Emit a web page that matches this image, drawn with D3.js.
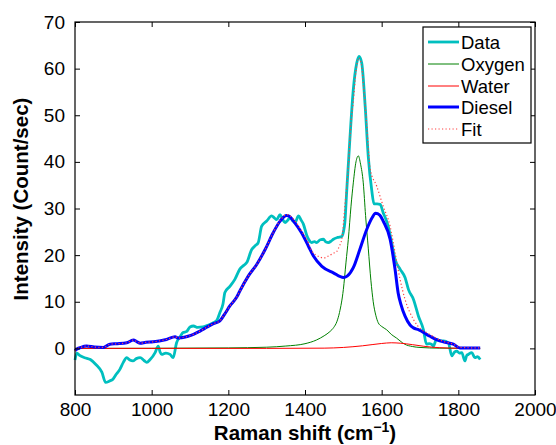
<!DOCTYPE html>
<html><head><meta charset="utf-8">
<script src="https://cdn.jsdelivr.net/npm/d3@7"></script>
<style>body{margin:0;background:#fff}svg{display:block}text{font-family:"Liberation Sans",Arial,Helvetica,sans-serif}</style>
</head><body>
<script>
// ---- data ----
const dataX = [800,805,812,825,840,855,870,880,890,899,908,917,926,935,943,951,960,970,980,987,996,1009,1017,1022,1026,1037,1048,1056,1065,1075,1082,1091,1100,1109,1120,1134,1148,1161,1170,1178,1186,1191,1204,1217,1230,1240,1248,1261,1270,1278,1287,1300,1313,1320,1326,1335,1342,1348,1355,1361,1368,1374,1383,1390,1396,1404,1410,1417,1425,1430,1440,1448,1455,1461,1468,1474,1485,1496,1500,1504,1509,1517,1526,1535,1541,1548,1557,1565,1574,1580,1588,1596,1604,1617,1626,1635,1648,1661,1670,1683,1696,1709,1717,1724,1730,1735,1743,1752,1761,1774,1783,1790,1796,1803,1809,1817,1822,1826,1835,1843,1850,1857];
const dataY = [-2.5,-1.0,-1.5,-2.0,-2.4,-3.5,-5.1,-7.3,-7.0,-6.6,-5.5,-4.5,-3.0,-2.0,-2.5,-2.7,-2.2,-2.0,-2.6,-3.0,-2.4,-0.9,0.5,-0.8,-1.3,-1.0,-1.3,-2.0,1.2,2.6,3.4,3.6,4.6,4.8,4.5,4.6,5.0,5.5,6.0,7.7,9.5,12.0,13.3,14.8,17.0,17.8,18.4,21.2,22.0,22.7,26.2,27.3,28.4,28.0,27.6,28.7,27.6,27.0,27.5,28.0,27.4,27.0,28.4,27.5,26.6,24.4,23.3,22.7,22.9,22.7,23.3,23.4,22.8,22.7,23.0,23.4,23.8,24.0,24.9,27.0,34.0,44.8,55.5,61.2,62.6,61.2,51.9,41.2,34.0,31.0,31.0,30.9,29.1,26.2,22.7,19.1,17.0,15.2,12.6,10.5,6.9,4.0,0.9,1.0,0.9,0.5,1.9,1.6,1.6,1.2,-1.6,-0.8,-0.6,-1.0,-0.9,-2.7,-1.5,-1.3,-0.9,-2.0,-1.8,-2.4];

const oxygenX = [800,1000,1200,1300,1350,1400,1430,1450,1465,1475,1483,1490,1500,1507,1513,1520,1526,1533,1539,1545,1552,1558,1565,1572,1578,1585,1591,1600,1613,1625,1639,1648,1660,1680,1700,1750,1857];
const oxygenY = [0.0,0.02,0.1,0.25,0.5,1.0,1.8,2.7,3.6,4.5,5.7,7.7,12.6,18.5,23.4,30.5,35.5,40.0,41.3,39.5,35.5,28.5,21.5,14.5,10.0,7.0,5.5,4.7,4.0,3.0,2.2,1.6,0.9,0.4,0.2,0.05,0.0];

const waterX = [800,1300,1450,1500,1550,1600,1625,1650,1680,1710,1750,1800,1857];
const waterY = [0,0,0.05,0.2,0.55,1.05,1.2,1.1,0.8,0.45,0.15,0.03,0];

const dieselX = [800,804,815,830,850,874,891,910,935,952,962,970,985,1004,1020,1039,1061,1070,1078,1095,1109,1126,1145,1161,1178,1190,1204,1222,1230,1252,1274,1296,1317,1335,1352,1360,1370,1391,1409,1422,1444,1474,1500,1510,1526,1543,1561,1575,1584,1595,1604,1622,1635,1643,1650,1661,1674,1683,1696,1704,1717,1726,1743,1761,1787,1804,1857];
const dieselY = [-0.5,-0.2,0.2,0.5,0.3,0.2,0.9,1.0,1.2,1.8,1.4,1.1,1.3,1.4,1.6,1.9,2.5,2.2,2.3,2.6,3.0,3.7,4.6,5.3,5.9,7.3,9.1,11.0,12.3,15.5,18.0,21.2,24.8,27.3,28.5,28.3,27.3,24.8,21.9,19.8,17.6,16.2,15.2,15.5,17.3,21.2,25.5,28.0,29.0,28.6,27.3,23.4,16.9,11.9,9.5,6.9,5.0,4.4,4.0,3.7,3.0,2.6,1.9,1.4,0.9,0.1,0.1];

const fitX = [800,804,815,830,850,874,891,910,935,952,962,970,985,1004,1020,1039,1061,1070,1078,1095,1109,1126,1145,1161,1178,1190,1204,1222,1230,1252,1274,1296,1317,1335,1352,1360,1370,1391,1409,1417,1439,1450,1461,1474,1483,1490,1496,1504,1513,1520,1526,1533,1540,1547,1553,1560,1566,1570,1587,1604,1622,1635,1648,1661,1683,1704,1717,1733,1761,1787,1804,1857];
const fitY = [-0.5,-0.2,0.2,0.5,0.3,0.2,0.9,1.0,1.2,1.8,1.4,1.1,1.3,1.4,1.6,1.9,2.5,2.2,2.3,2.6,3.0,3.7,4.6,5.3,5.9,7.3,9.1,11.0,12.3,15.5,18.0,21.2,24.8,27.4,28.7,28.5,27.7,25.2,22.6,21.0,19.6,19.4,19.8,20.4,20.8,22.0,23.4,30.5,39.0,48.5,53.0,59.5,62.3,61.0,56.0,49.0,42.0,38.4,34.8,30.5,26.2,20.5,14.8,10.5,6.2,4.0,3.4,2.6,1.5,0.9,0.2,0.1];

const xTicks = [800,1000,1200,1400,1600,1800,2000];
const yTicks = [0,10,20,30,40,50,60,70];
const legendLabels = ["Data","Oxygen","Water","Diesel","Fit"];

// ---- chart ----
const W = 556, H = 445;
const m = {left:75, right:21, top:22, bottom:50};
const svg = d3.select("body").append("svg").attr("width",W).attr("height",H);
const x = d3.scaleLinear().domain([800,2000]).range([m.left, W-m.right]);
const y = d3.scaleLinear().domain([-10,70]).range([H-m.bottom, m.top]);
const fsTick = 19, fsTitle = 20.5, fsLeg = 18.5;

const series = [
  {name:"Data",   xs:dataX,   ys:dataY,   color:"#00bfbf", w:2.8},
  {name:"Oxygen", xs:oxygenX, ys:oxygenY, color:"#008000", w:1},
  {name:"Water",  xs:waterX,  ys:waterY,  color:"#ff0000", w:1},
  {name:"Diesel", xs:dieselX, ys:dieselY, color:"#0000ff", w:3},
  {name:"Fit",    xs:fitX,    ys:fitY,    color:"#ff4040", w:1.2, dash:"1.2,2.3"}
];

const line = d3.line().x(d=>x(d[0])).y(d=>y(d[1])).curve(d3.curveMonotoneX);
series.forEach(s=>{
  const pts = s.xs.map((v,i)=>[v,s.ys[i]]);
  svg.append("path").attr("d",line(pts)).attr("fill","none")
    .attr("stroke",s.color).attr("stroke-width",s.w)
    .attr("stroke-linejoin","round")
    .attr("stroke-dasharray",s.dash||null);
});

// axes (MATLAB-style inward ticks, box)
const gx = svg.append("g").attr("transform",`translate(0,${H-m.bottom})`)
  .call(d3.axisBottom(x).tickValues(xTicks).tickFormat(d3.format("d")).tickSize(-5).tickPadding(8));
const gxt = svg.append("g").attr("transform",`translate(0,${m.top})`)
  .call(d3.axisTop(x).tickValues(xTicks).tickFormat("").tickSize(-5));
const gy = svg.append("g").attr("transform",`translate(${m.left},0)`)
  .call(d3.axisLeft(y).tickValues(yTicks).tickFormat(d3.format("d")).tickSize(-5).tickPadding(10));
const gyr = svg.append("g").attr("transform",`translate(${W-m.right},0)`)
  .call(d3.axisRight(y).tickValues(yTicks).tickFormat("").tickSize(-5));
[gx,gxt,gy,gyr].forEach(g=>{
  g.select(".domain").remove();
  g.selectAll("line").attr("stroke","#000");
  g.selectAll("text").attr("font-size",fsTick).attr("fill","#000").style("font-family",'"Liberation Sans",Arial,sans-serif');
});
svg.append("rect").attr("x",m.left).attr("y",m.top).attr("width",W-m.left-m.right).attr("height",H-m.top-m.bottom)
  .attr("fill","none").attr("stroke","#000").attr("stroke-width",1.2);

// axis titles
const xt = svg.append("text").attr("x",(m.left+W-m.right)/2).attr("y",440).attr("text-anchor","middle")
  .attr("font-size",fsTitle).attr("font-weight","bold");
xt.append("tspan").text("Raman shift (cm");
xt.append("tspan").attr("dy",-8).attr("font-size",14).text("\u22121");
xt.append("tspan").attr("dy",8).text(")");
svg.append("text").attr("transform","translate(28,199) rotate(-90)").attr("text-anchor","middle")
  .attr("font-size",fsTitle).attr("font-weight","bold").text("Intensity (Count/sec)");

// legend
const lg = svg.append("g");
lg.append("rect").attr("x",423).attr("y",27).attr("width",108).attr("height",116)
  .attr("fill","#fff").attr("stroke","#000").attr("stroke-width",1.2);
const lgText = svg.append("g").style("font-weight","400");
legendLabels.forEach((lab,i)=>{
  const s = series.find(d=>d.name===lab);
  const yy = Math.round(42 + i*21.8);
  lg.append("line").attr("x1",428).attr("x2",459).attr("y1",yy).attr("y2",yy)
    .attr("stroke",s.color).attr("stroke-width",s.w).attr("stroke-dasharray",s.dash||null);
  lgText.append("text").attr("x",461).attr("y",yy+7)
    .style("font-size",fsLeg+"px").style("font-weight","400").style("stroke","none")
    .style("font-family",'"Liberation Sans",Arial,sans-serif').attr("fill","#000").text(lab);
});
</script>
</body></html>
